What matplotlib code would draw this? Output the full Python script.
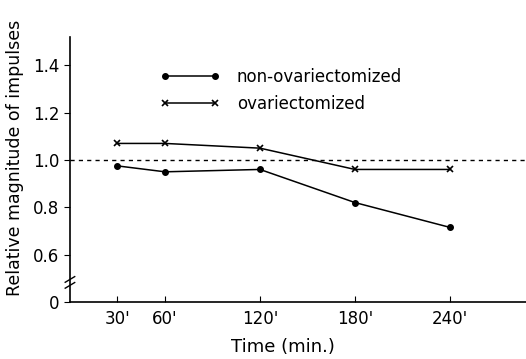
import matplotlib.pyplot as plt

## datos
tiempo = [30, 60, 120, 180, 240]
no_ovx = [0.975, 0.95, 0.96, 0.82, 0.715]
ovx = [1.07, 1.07, 1.05, 0.96, 0.96]

xticks = [30, 60, 120, 180, 240]
xlabels = ["30'", "60'", "120'", "180'", "240'"]
yticks = [0.4, 0.6, 0.8, 1.0, 1.2, 1.4]
ylabels = ["0", "0.6", "0.8", "1.0", "1.2", "1.4"]

fig = plt.figure(figsize=(5.26, 3.59), dpi=100)
ax = fig.add_axes([0.133, 0.159, 0.867, 0.738])

ax.plot(tiempo, no_ovx, color='black', lw=1.1, marker='o', ms=4, label='non-ovariectomized')
ax.plot(tiempo, ovx, color='black', lw=1.1, marker='x', ms=5, mew=1.2, label='ovariectomized')
ax.axhline(1.0, color='black', lw=1, ls=(0, (3, 3)))

ax.set_xlim(0, 288)
ax.set_ylim(0.4, 1.52)
ax.set_xticks(xticks)
ax.set_xticklabels(xlabels)
ax.set_yticks(yticks)
ax.set_yticklabels(ylabels)
ax.tick_params(axis='x', direction='in', length=4, labelsize=12, pad=6)
ax.tick_params(axis='y', direction='out', length=4, labelsize=12)
ax.spines['top'].set_visible(False)
ax.spines['right'].set_visible(False)
ax.spines['left'].set_linewidth(1.2)
ax.spines['bottom'].set_linewidth(1.2)

## marca de corte en el eje y
for yy in [0.47, 0.495]:
    ax.plot([-3, 3], [yy - 0.012, yy + 0.012], color='black', lw=1, clip_on=False,
            transform=ax.transData)

ax.set_xlabel('Time (min.)', fontsize=13)
ax.xaxis.set_label_coords(0.467, -0.135)
ax.set_ylabel('Relative magnitude of impulses', fontsize=12.5)
ax.yaxis.set_label_coords(-0.1, 0.545)

ax.legend(loc='upper left', bbox_to_anchor=(0.165, 0.94), frameon=False, fontsize=12,
          handlelength=3.6, numpoints=2, labelspacing=0.55, handletextpad=1.0)

fig.savefig('out.png', dpi=100)
